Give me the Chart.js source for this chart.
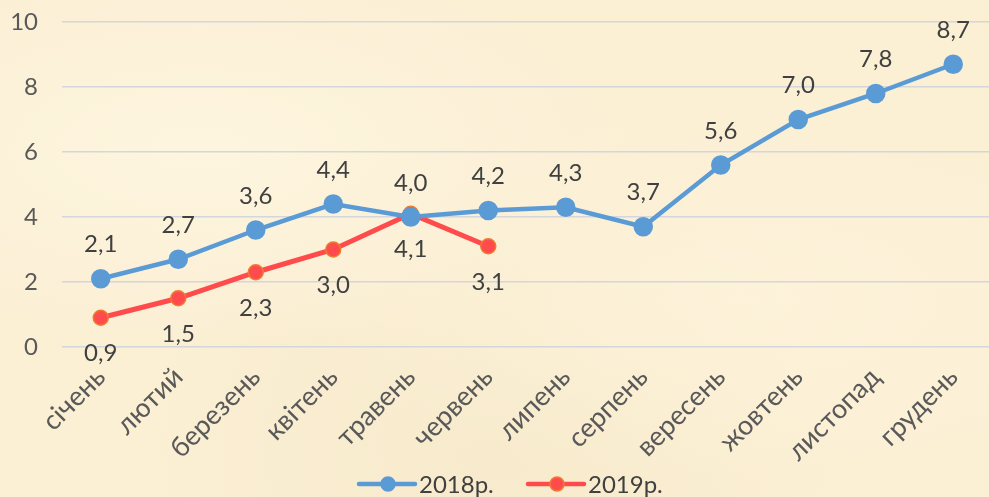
<!DOCTYPE html>
<html><head><meta charset="utf-8">
<script src="https://cdn.jsdelivr.net/npm/chart.js@4.4.1/dist/chart.umd.min.js"></script>
<style>
html,body{margin:0;padding:0;overflow:hidden;}
body{width:989px;height:497px;
background:
 radial-gradient(ellipse at 20% 30%, rgba(255,248,228,0.7), rgba(255,248,228,0) 40%),
 radial-gradient(ellipse at 75% 60%, rgba(255,246,222,0.6), rgba(255,246,222,0) 45%),
 radial-gradient(ellipse at 50% 90%, rgba(240,225,190,0.35), rgba(240,225,190,0) 50%),
 #FBEFD4;}
#wrap{width:989px;height:497px;overflow:hidden;position:relative;}
canvas{display:block;}
</style></head>
<body><div id="wrap"><canvas id="c" width="1004" height="497"></canvas></div>
<script>
const categories = ['січень','лютий','березень','квітень','травень','червень','липень','серпень','вересень','жовтень','листопад','грудень'];
const series2018 = [2.1,2.7,3.6,4.4,4.0,4.2,4.3,3.7,5.6,7.0,7.8,8.7];
const series2019 = [0.9,1.5,2.3,3.0,4.1,3.1,null,null,null,null,null,null];
const seriesNames = ['2018р.','2019р.'];
const yTicks = [0,2,4,6,8,10];

const FONT = "Lato, 'Open Sans', sans-serif";
const BLUE = '#5B9BD5', RED = '#FF4B4B', ORANGE = '#ED7D31';

const labelPlugin = {
  id:'valueLabels',
  afterDatasetsDraw(chart){
    const ctx = chart.ctx;
    ctx.save();
    ctx.font = "24px " + FONT;
    ctx.fillStyle = '#404040';
    ctx.textAlign = 'center';
    ctx.textBaseline = 'middle';
    chart.data.datasets.forEach((ds, i) => {
      const meta = chart.getDatasetMeta(i);
      meta.data.forEach((pt, j) => {
        const v = ds.data[j];
        if (v === null || v === undefined) return;
        const off = i === 0 ? -34 : 36;
        ctx.fillText(v.toFixed(1).replace('.', ','), pt.x, pt.y + off);
      });
    });
    ctx.restore();
  }
};

const legendPlugin = {
  id:'customLegend',
  afterDraw(chart){
    const ctx = chart.ctx;
    ctx.save();
    const y = 484;
    const items = [
      {x:359, color:BLUE, border:BLUE, text:seriesNames[0]},
      {x:528, color:RED, border:ORANGE, text:seriesNames[1]}
    ];
    ctx.font = "24px " + FONT;
    ctx.textBaseline = 'middle';
    items.forEach(it => {
      ctx.strokeStyle = it.color;
      ctx.lineWidth = 4.5;
      ctx.lineCap = 'round';
      ctx.beginPath(); ctx.moveTo(it.x, y); ctx.lineTo(it.x + 56, y); ctx.stroke();
      ctx.beginPath(); ctx.arc(it.x + 29, y, 7, 0, Math.PI*2);
      ctx.fillStyle = it.color; ctx.fill();
      ctx.lineWidth = 1.5; ctx.strokeStyle = it.border; ctx.stroke();
      ctx.fillStyle = '#404040';
      ctx.textAlign = 'left';
      ctx.fillText(it.text, it.x + 60, y + 1);
    });
    ctx.restore();
  }
};

new Chart(document.getElementById('c'), {
  type:'line',
  data:{
    labels:categories,
    datasets:[
      {label:seriesNames[0], data:series2018, borderColor:BLUE, backgroundColor:BLUE,
       borderWidth:4.5, pointRadius:7.5, pointBorderColor:BLUE, pointBackgroundColor:BLUE, tension:0},
      {label:seriesNames[1], data:series2019, borderColor:RED, backgroundColor:RED,
       borderWidth:5, pointRadius:7.5, pointBorderWidth:1.5, pointBorderColor:ORANGE, pointBackgroundColor:RED, tension:0}
    ]
  },
  options:{
    responsive:false, animation:false,
    layout:{padding:{top:22, bottom:30, right:-3, left:0}},
    plugins:{legend:{display:false}, tooltip:{enabled:false}},
    scales:{
      x:{
        offset:true,
        grid:{display:false, drawTicks:false},
        border:{display:false},
        ticks:{color:'#595959', font:{size:27, family:FONT}, minRotation:45, maxRotation:45, padding:14, autoSkip:false},
        afterFit(s){ s.height = 120; s.paddingLeft = 0; s.paddingRight = 0; }
      },
      y:{
        min:0, max:10,
        afterBuildTicks(s){ s.ticks = yTicks.map(v => ({value:v})); },
        grid:{color:'#D3D6DC', lineWidth:1.5, drawTicks:false},
        border:{display:false},
        ticks:{color:'#595959', font:{size:24, family:FONT}, padding:24},
        afterFit(s){ s.width = 62; s.paddingTop = 0; s.paddingBottom = 0; }
      }
    }
  },
  plugins:[labelPlugin, legendPlugin]
});
</script></body></html>
